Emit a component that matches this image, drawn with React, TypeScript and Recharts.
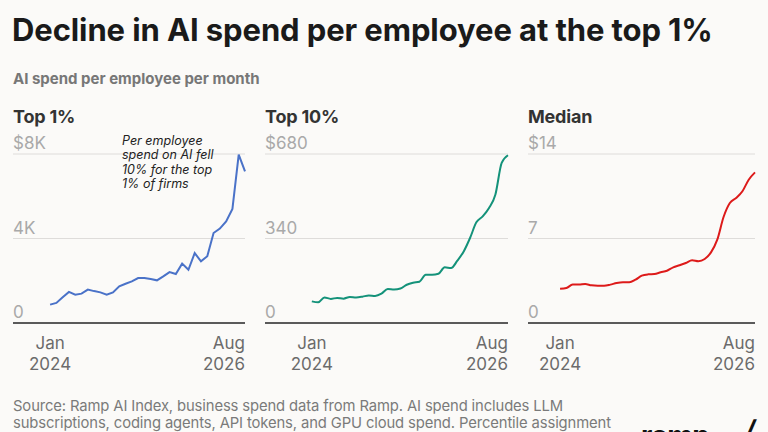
import React from 'react';
import { LineChart, Line, XAxis, YAxis, CartesianGrid } from 'recharts';

// monthly points, Jan 2024 .. Aug 2026
const months = [
  '2024-01', '2024-02', '2024-03', '2024-04', '2024-05', '2024-06', '2024-07', '2024-08',
  '2024-09', '2024-10', '2024-11', '2024-12', '2025-01', '2025-02', '2025-03', '2025-04',
  '2025-05', '2025-06', '2025-07', '2025-08', '2025-09', '2025-10', '2025-11', '2025-12',
  '2026-01', '2026-02', '2026-03', '2026-04', '2026-05', '2026-06', '2026-07', '2026-08',
];

const top1 = [
  870, 950, 1215, 1470, 1340, 1390, 1580, 1510, 1450, 1340, 1450, 1740, 1860, 1970, 2130, 2130,
  2080, 2020, 2210, 2410, 2320, 2810, 2520, 3310, 2920, 3160, 4260, 4470, 4810, 5400, 7970, 7180,
];

const top10 = [
  87, 83, 103, 97, 101, 98, 105, 103, 106, 111, 109, 118, 137, 135, 139, 154,
  162, 166, 194, 194, 198, 224, 221, 251, 288, 342, 405, 429, 463, 516, 644, 675,
];

const median = [
  2.84, 2.9, 3.18, 3.18, 3.23, 3.12, 3.09, 3.09, 3.18, 3.31, 3.37, 3.37, 3.59, 3.92, 4.03, 4.06,
  4.2, 4.33, 4.61, 4.78, 4.97, 5.19, 5.11, 5.3, 5.85, 6.9, 8.78, 9.94, 10.35, 10.91, 11.87, 12.48,
];

const top1Ticks = [0, 4000, 8000];
const top1Labels = ['0', '4K', '$8K'];
const top10Ticks = [0, 340, 680];
const top10Labels = ['0', '340', '$680'];
const medianTicks = [0, 7, 14];
const medianLabels = ['0', '7', '$14'];

const xTickLabels: Record<number, [string, string]> = {
  0: ['Jan', '2024'],
  31: ['Aug', '2026'],
};

const sourceLines = [
  'Source: Ramp AI Index, business spend data from Ramp. AI spend includes LLM',
  'subscriptions, coding agents, API tokens, and GPU cloud spend. Percentile assignment',
];

const FONT = 'Inter, "Noto Sans", sans-serif';

const toRows = (values: number[]) => months.map((m, i) => ({ idx: i, month: m, value: values[i] }));

interface PanelProps {
  left: number;
  width: number;
  margin: { top: number; right: number; bottom: number; left: number };
  values: number[];
  ticks: number[];
  labels: string[];
  xStart: number;
  color: string;
  curve: 'linear' | 'monotone';
}

const Panel: React.FC<PanelProps> = ({ left, width, margin, values, ticks, labels, xStart, color, curve }) => {
  const data = toRows(values);
  return (
    <div style={{ position: 'absolute', left, top: 130 }}>
      <LineChart width={width} height={250} data={data} margin={margin} style={{ overflow: 'visible' }}>
        <CartesianGrid horizontal vertical={false} stroke="#dedcda" />
        <XAxis
          dataKey="idx"
          type="number"
          domain={[xStart, 31]}
          ticks={[0, 31]}
          height={50}
          tickSize={0}
          tickMargin={0}
          axisLine={{ stroke: '#2a2a2a', strokeWidth: 1.5 }}
          tickLine={false}
          interval={0}
          tick={(props: any) => {
            const { x, y, payload } = props;
            const lines = xTickLabels[payload.value];
            const anchor = payload.value === 0 ? 'middle' : 'end';
            return (
              <g>
                <text x={x} y={y + 26} textAnchor={anchor} fontSize={17} fill="#6b6b6b" fontFamily={FONT}>
                  {lines[0]}
                </text>
                <text x={x} y={y + 47} textAnchor={anchor} fontSize={17} fill="#6b6b6b" fontFamily={FONT}>
                  {lines[1]}
                </text>
              </g>
            );
          }}
        />
        <YAxis
          domain={[ticks[0], ticks[2]]}
          ticks={ticks}
          width={1}
          tickSize={0}
          tickMargin={0}
          axisLine={false}
          tickLine={false}
          interval={0}
          tick={(props: any) => {
            const { x, y, payload } = props;
            const label = labels[ticks.indexOf(payload.value)];
            return (
              <text x={x} y={y - 5} textAnchor="start" fontSize={17} fill="#a9a9a9" fontFamily={FONT}>
                {label}
              </text>
            );
          }}
        />
        <Line
          type={curve}
          dataKey="value"
          stroke={color}
          strokeWidth={2}
          dot={false}
          isAnimationActive={false}
        />
      </LineChart>
    </div>
  );
};

const panelTitle: React.CSSProperties = {
  position: 'absolute',
  top: 106,
  fontSize: 18,
  fontWeight: 700,
  color: '#333',
  letterSpacing: -0.2,
};

const sourceStyle: React.CSSProperties = {
  position: 'absolute',
  left: 13,
  fontSize: 14.8,
  lineHeight: '15px',
  color: '#7a7a7a',
  whiteSpace: 'nowrap',
  letterSpacing: -0.12,
};

export default function App() {
  return (
    <div
      style={{
        position: 'fixed',
        left: 0,
        top: 0,
        width: 768,
        height: 432,
        overflow: 'hidden',
        background: '#fbfaf8',
        fontFamily: FONT,
      }}
    >
      <div
        style={{
          position: 'absolute',
          left: 12,
          top: 11,
          fontSize: 31,
          fontWeight: 700,
          color: '#1a1a1a',
          letterSpacing: -0.1,
          whiteSpace: 'nowrap',
        }}
      >
        Decline in AI spend per employee at the top 1%
      </div>
      <div
        style={{ position: 'absolute', left: 13, top: 69, fontSize: 15, fontWeight: 700, color: '#777' }}
      >
        AI spend per employee per month
      </div>

      <div style={{ ...panelTitle, left: 13 }}>Top 1%</div>
      <div style={{ ...panelTitle, left: 265 }}>Top 10%</div>
      <div style={{ ...panelTitle, left: 528 }}>Median</div>

      <Panel
        left={0}
        width={258}
        margin={{ top: 24, right: 13, bottom: 7, left: 12 }}
        values={top1}
        ticks={top1Ticks}
        labels={top1Labels}
        xStart={-5.9}
        color="#4a72c8"
        curve="linear"
      />
      <Panel
        left={255}
        width={258}
        margin={{ top: 24, right: 5, bottom: 7, left: 9 }}
        values={top10}
        ticks={top10Ticks}
        labels={top10Labels}
        xStart={-7.4}
        color="#14927a"
        curve="monotone"
      />
      <Panel
        left={515}
        width={253}
        margin={{ top: 24, right: 13, bottom: 7, left: 12 }}
        values={median}
        ticks={medianTicks}
        labels={medianLabels}
        xStart={-5.1}
        color="#dd1a1a"
        curve="monotone"
      />

      <div
        style={{
          position: 'absolute',
          left: 122,
          top: 134,
          fontSize: 12.5,
          fontStyle: 'italic',
          lineHeight: '14.4px',
          color: '#222',
          width: 110,
        }}
      >
        Per employee
        <br />
        spend on AI fell
        <br />
        10% for the top
        <br />
        1% of firms
      </div>

      <div style={{ ...sourceStyle, top: 399 }}>{sourceLines[0]}</div>
      <div style={{ ...sourceStyle, top: 416 }}>{sourceLines[1]}</div>

      <div
        style={{
          position: 'absolute',
          left: 641,
          top: 419,
          fontSize: 28,
          fontWeight: 700,
          color: '#111',
          letterSpacing: -0.5,
        }}
      >
        ramp
      </div>
      <div
        style={{
          position: 'absolute',
          left: 745,
          top: 414,
          fontSize: 26,
          fontWeight: 700,
          fontStyle: 'italic',
          color: '#111',
        }}
      >
        /
      </div>
    </div>
  );
}
